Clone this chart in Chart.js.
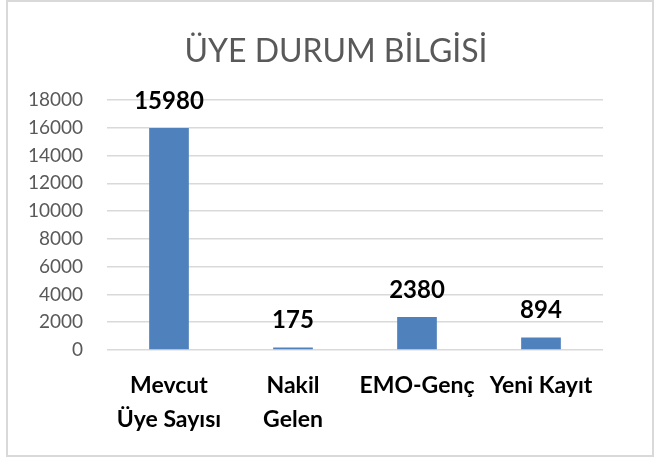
<!DOCTYPE html>
<html>
<head>
<meta charset="utf-8">
<script src="https://cdn.jsdelivr.net/npm/chart.js@4.4.0/dist/chart.umd.min.js"></script>
<style>
  body { margin: 0; background: #fff; }
  #wrap { position: relative; width: 659px; height: 459px; }
  #frame { position: absolute; left: 6px; top: 0; width: 644px; height: 453px; border: 2px solid #d9d9d9; pointer-events: none; }
</style>
</head>
<body>
<div id="wrap">
  <canvas id="chart" width="659" height="459"></canvas>
  <div id="frame"></div>
</div>
<script>
// Chart data
const chartTitle = 'ÜYE DURUM BİLGİSİ';
const categories = [['Mevcut', 'Üye Sayısı'], ['Nakil', 'Gelen'], 'EMO-Genç', 'Yeni Kayıt'];
const memberCounts = [15980, 175, 2380, 894];
const yTicks = [0, 2000, 4000, 6000, 8000, 10000, 12000, 14000, 16000, 18000];

// Draws the bold number above each bar
const barValueLabels = {
    id: 'barValueLabels',
    afterDatasetsDraw(chart) {
        const ctx = chart.ctx;
        const meta = chart.getDatasetMeta(0);
        ctx.save();
        ctx.font = 'bold 24px Lato';
        ctx.fillStyle = '#000';
        ctx.textAlign = 'center';
        ctx.textBaseline = 'middle';
        meta.data.forEach((bar, i) => {
            ctx.fillText(memberCounts[i], bar.x, bar.y - 27);
        });
        ctx.restore();
    }
};

// Title centred on the frame (not on the layout box like the built-in one)
const frameTitle = {
    id: 'frameTitle',
    afterDraw(chart) {
        const ctx = chart.ctx;
        ctx.save();
        ctx.font = '32px Lato';
        ctx.fillStyle = '#595959';
        ctx.textAlign = 'center';
        ctx.textBaseline = 'middle';
        ctx.fillText(chartTitle, 336, 52);
        ctx.restore();
    }
};

const ctx = document.getElementById('chart').getContext('2d');
new Chart(ctx, {
    type: 'bar',
    data: {
        labels: categories,
        datasets: [{
            data: memberCounts,
            backgroundColor: '#4f81bd',
            categoryPercentage: 1,
            barPercentage: 0.32
        }]
    },
    options: {
        responsive: false,
        animation: false,
        layout: { padding: { left: 20, right: 56, top: 100, bottom: 12 } },
        plugins: {
            legend: { display: false },
            tooltip: { enabled: false },
            title: { display: false }
        },
        scales: {
            x: {
                grid: { display: false },
                border: { display: false },
                ticks: {
                    color: '#000',
                    font: { family: 'Lato', size: 23, weight: 'bold', lineHeight: 1.5 },
                    maxRotation: 0,
                    autoSkip: false,
                    padding: 10
                }
            },
            y: {
                min: 0,
                max: 18000,
                afterBuildTicks(axis) {
                    axis.ticks = yTicks.map(v => ({ value: v }));
                },
                afterFit(axis) {
                    axis.width = 87;
                },
                grid: { color: '#d9d9d9', lineWidth: 1.5, drawTicks: false },
                border: { display: false },
                ticks: {
                    color: '#595959',
                    font: { family: 'Lato', size: 19 },
                    padding: 24,
                    autoSkip: false,
                    callback: v => String(v)
                }
            }
        }
    },
    plugins: [barValueLabels, frameTitle]
});
</script>
</body>
</html>
